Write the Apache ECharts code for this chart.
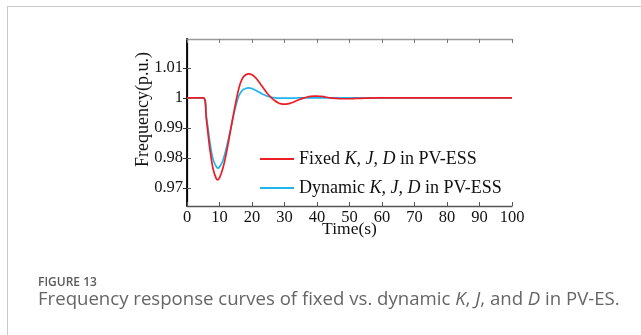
<!DOCTYPE html>
<html>
<head>
<meta charset="utf-8">
<script src="https://cdn.jsdelivr.net/npm/echarts@6/dist/echarts.min.js"></script>
<style>
  html, body { margin: 0; padding: 0; background: #fff; }
  #wrap { position: relative; width: 641px; height: 335px; overflow: hidden; }
  #frame { position: absolute; left: 7px; top: 6px; right: -2px; bottom: -2px;
           border-top: 1.5px solid #c9c9c9; border-left: 1.5px solid #c9c9c9; }
  #chart { position: absolute; left: 0; top: 0; width: 641px; height: 335px; }
  .cap { position: absolute; left: 38px; font-family: "Open Sans", "Noto Sans", sans-serif; color: #666; white-space: nowrap; }
  #fig { top: 273px; font-size: 12px; font-weight: 600; color: #5a5a5a; }
  #desc { top: 285px; font-size: 18.6px; }
</style>
</head>
<body>
<div id="wrap">
  <div id="frame"></div>
  <div id="chart"></div>
  <div class="cap" id="fig">FIGURE 13</div>
  <div class="cap" id="desc">Frequency response curves of fixed vs. dynamic <i>K</i>, <i>J</i>, and <i>D</i> in PV-ES.</div>
</div>
<script>
// time (s)
const timeS = [0, 5, 6, 7, 8, 9, 9.5, 10, 11, 12, 13, 14, 15, 16, 17, 18, 19, 20, 21, 22, 23, 24, 25, 26, 27, 28, 29, 30,
  31, 32, 33, 34, 35, 36, 37, 38, 39, 40, 41, 42, 43, 44, 45, 46, 48, 50, 52, 55, 58, 60, 100];
// fixed K, J, D
const fixedKJD = [1, 1, 0.9925, 0.9832, 0.9765, 0.9731, 0.9727, 0.9734, 0.9764, 0.9810, 0.9868, 0.9928, 0.9984, 1.0034,
  1.0064, 1.0076, 1.0080, 1.0077, 1.0068, 1.0055, 1.0040, 1.0025, 1.0011, 1.0000, 0.9991, 0.9984, 0.9980, 0.9979,
  0.9980, 0.9983, 0.9987, 0.9992, 0.9996, 1.0000, 1.0003, 1.0005, 1.0006, 1.0006, 1.0005, 1.0004, 1.0002, 1.0000,
  0.9999, 0.9998, 0.9997, 0.9997, 0.9998, 0.9999, 1, 1, 1];
// dynamic K, J, D
const dynamicKJD = [1, 1, 0.9935, 0.9856, 0.9796, 0.9771, 0.9766, 0.9770, 0.9790, 0.9828, 0.9875, 0.9925, 0.9973, 1.0008,
  1.0025, 1.0031, 1.0033, 1.0031, 1.0026, 1.0020, 1.0014, 1.0009, 1.0005, 1.0002, 1.0000, 0.9999, 0.9999, 0.9999,
  0.9999, 0.9999, 0.9999, 1, 1, 1, 1, 1, 1, 1, 1, 1, 1, 1, 1, 1, 1, 1, 1, 1, 1, 1, 1];
const yTicks = [0.97, 0.98, 0.99, 1, 1.01];
const seriesNames = ['Fixed', 'Dynamic'];

const chart = echarts.init(document.getElementById('chart'));
const serif = 'Liberation Serif';
const tickLabel = { fontFamily: serif, fontSize: 16.5, color: '#111' };

const legendFmt = (name) => '{n|' + name + ' }{i|K, J, D}{n| in PV-ESS}';

const option = {
  animation: false,
  grid: { left: 187, right: 129, top: 39, bottom: 129 },
  legend: {
    orient: 'vertical',
    left: 255,
    top: 144,
    icon: 'rect',
    itemWidth: 34,
    itemHeight: 1.8,
    itemGap: 9,
    data: seriesNames,
    formatter: legendFmt,
    textStyle: {
      fontFamily: serif, fontSize: 18, color: '#111', lineHeight: 20,
      rich: {
        n: { fontFamily: serif, fontSize: 18, color: '#111', lineHeight: 20 },
        i: { fontFamily: serif, fontSize: 18, color: '#111', fontStyle: 'italic', lineHeight: 20 }
      }
    }
  },
  xAxis: [
    {
      type: 'value', min: 0, max: 100, interval: 10, position: 'bottom',
      name: 'Time(s)', nameLocation: 'middle', nameGap: 14, nameMoveOverlap: false,
      nameTextStyle: { fontFamily: serif, fontSize: 17.5, color: '#111' },
      axisLine: { lineStyle: { color: '#555', width: 1.3 } },
      axisTick: { inside: true, length: 4, lineStyle: { color: '#555' } },
      axisLabel: Object.assign({ margin: 3 }, tickLabel),
      splitLine: { show: false }
    },
    {
      type: 'value', min: 0, max: 100, interval: 10, position: 'top',
      axisLine: { lineStyle: { color: '#999', width: 1.3 } },
      axisTick: { inside: true, length: 4, lineStyle: { color: '#777' } },
      axisLabel: { show: false },
      splitLine: { show: false }
    }
  ],
  yAxis: [
    {
      type: 'value', min: 0.964, max: 1.0196, position: 'left',
      name: 'Frequency(p.u.)', nameLocation: 'middle', nameGap: 35, nameMoveOverlap: false,
      nameTextStyle: { fontFamily: serif, fontSize: 18, color: '#111', padding: [0, 0, 0, 26] },
      axisLine: { lineStyle: { color: '#555', width: 1.3 } },
      axisTick: { inside: true, length: 4, customValues: yTicks, lineStyle: { color: '#555' } },
      axisLabel: Object.assign({ margin: 4, customValues: yTicks, formatter: (v) => String(+v.toFixed(2)) }, tickLabel),
      splitLine: { show: false }
    },
    {
      type: 'value', min: 0.964, max: 1.0196, position: 'right',
      axisLine: { lineStyle: { color: '#000', width: 1.8 } },
      axisTick: { inside: true, length: 4, customValues: yTicks, lineStyle: { color: '#333' } },
      axisLabel: { show: false },
      splitLine: { show: false }
    }
  ],
  series: [
    {
      name: seriesNames[0], type: 'line', symbol: 'none', smooth: 0.4,
      data: timeS.map((t, i) => [t, fixedKJD[i]]),
      lineStyle: { color: '#ee1c24', width: 1.7 },
      itemStyle: { color: '#ee1c24' },
      z: 3
    },
    {
      name: seriesNames[1], type: 'line', symbol: 'none', smooth: 0.4,
      data: timeS.map((t, i) => [t, dynamicKJD[i]]),
      lineStyle: { color: '#1fb4ec', width: 1.7 },
      itemStyle: { color: '#1fb4ec' },
      z: 2
    }
  ]
};

chart.setOption(option);
</script>
</body>
</html>
